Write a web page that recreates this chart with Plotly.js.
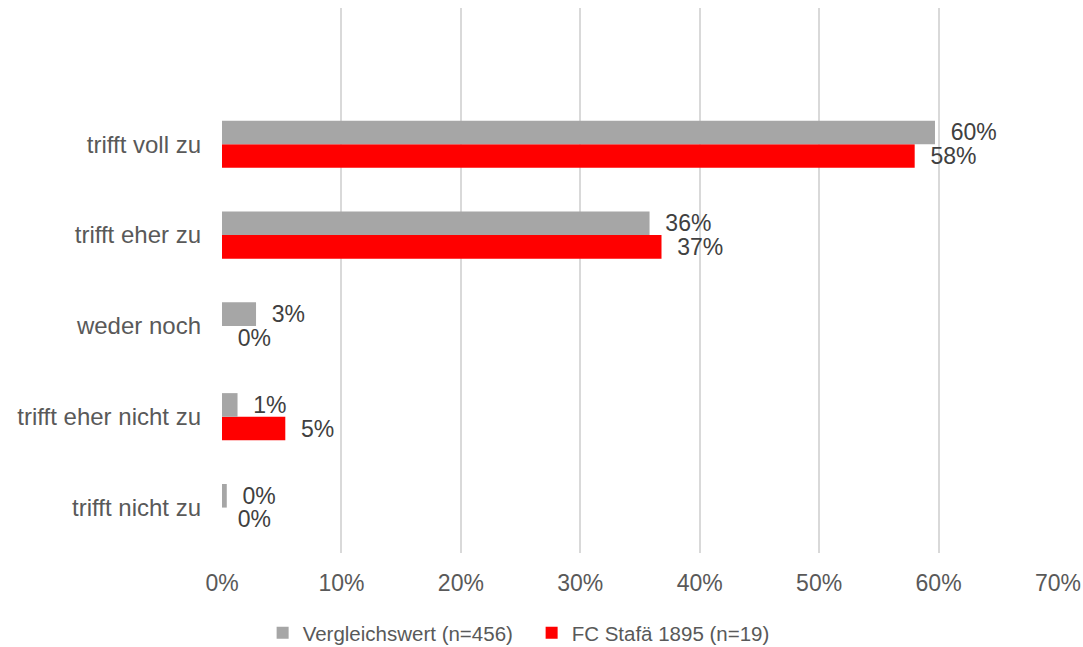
<!DOCTYPE html>
<html>
<head>
<meta charset="utf-8">
<script src="https://cdn.plot.ly/plotly-3.0.1.min.js"></script>
<style>html,body{margin:0;padding:0;background:#fff;}#chart{width:1083px;height:647px;}</style>
</head>
<body>
<div id="chart"></div>
<script>
// Categories from bottom to top
const categories = ['trifft nicht zu', 'trifft eher nicht zu', 'weder noch', 'trifft eher zu', 'trifft voll zu'];
const seriesNames = ['Vergleichswert (n=456)', 'FC Stafä 1895 (n=19)'];
const vergleichswert = [0.004, 0.013, 0.0285, 0.358, 0.597];
const fcStafa = [0.0, 0.053, 0.0, 0.368, 0.580];
const xTickVals = [0, 0.1, 0.2, 0.3, 0.4, 0.5, 0.6, 0.7];

const FONT = 'Liberation Sans, Arial, sans-serif';
const labelFont = {family: FONT, size: 23, color: '#404040'};

const data = [
  {
    type: 'bar', orientation: 'h', name: seriesNames[1],
    y: categories, x: fcStafa,
    marker: {color: '#FF0000'},
    texttemplate: '  %{x:.0%}', textposition: 'outside', cliponaxis: false,
    constraintext: 'none', textfont: labelFont, hoverinfo: 'skip'
  },
  {
    type: 'bar', orientation: 'h', name: seriesNames[0],
    y: categories, x: vergleichswert,
    marker: {color: '#A6A6A6'},
    texttemplate: '  %{x:.0%}', textposition: 'outside', cliponaxis: false,
    constraintext: 'none', textfont: labelFont, hoverinfo: 'skip'
  }
];

const layout = {
  width: 1083, height: 647,
  margin: {l: 222, r: 25, t: 8, b: 94, autoexpand: false},
  paper_bgcolor: '#ffffff', plot_bgcolor: '#ffffff',
  font: {family: FONT, size: 23, color: '#595959'},
  barmode: 'group', bargap: 0.48, bargroupgap: 0,
  showlegend: true,
  legend: {
    orientation: 'h', traceorder: 'reversed',
    xref: 'container', yref: 'container',
    x: 0.2425, xanchor: 'left', y: 0.0216, yanchor: 'middle',
    entrywidth: 224, entrywidthmode: 'pixels',
    font: {family: FONT, size: 20.5, color: '#595959'}
  },
  xaxis: {
    range: [0, 0.7], tickvals: xTickVals, tickformat: '.0%',
    tickfont: {family: FONT, size: 23, color: '#595959'},
    showgrid: true, gridcolor: '#D9D9D9', gridwidth: 2,
    zeroline: false, showline: false, ticks: '', ticklabelstandoff: 14,
    fixedrange: true, automargin: false
  },
  yaxis: {
    type: 'category', categoryorder: 'array', categoryarray: categories,
    tickfont: {family: FONT, size: 24, color: '#595959'},
    range: [-0.5, 5.5], showgrid: false, zeroline: false, showline: false,
    ticks: '', ticklabelstandoff: 20, fixedrange: true, automargin: false
  }
};

Plotly.newPlot('chart', data, layout, {displayModeBar: false, staticPlot: true});
</script>
</body>
</html>
